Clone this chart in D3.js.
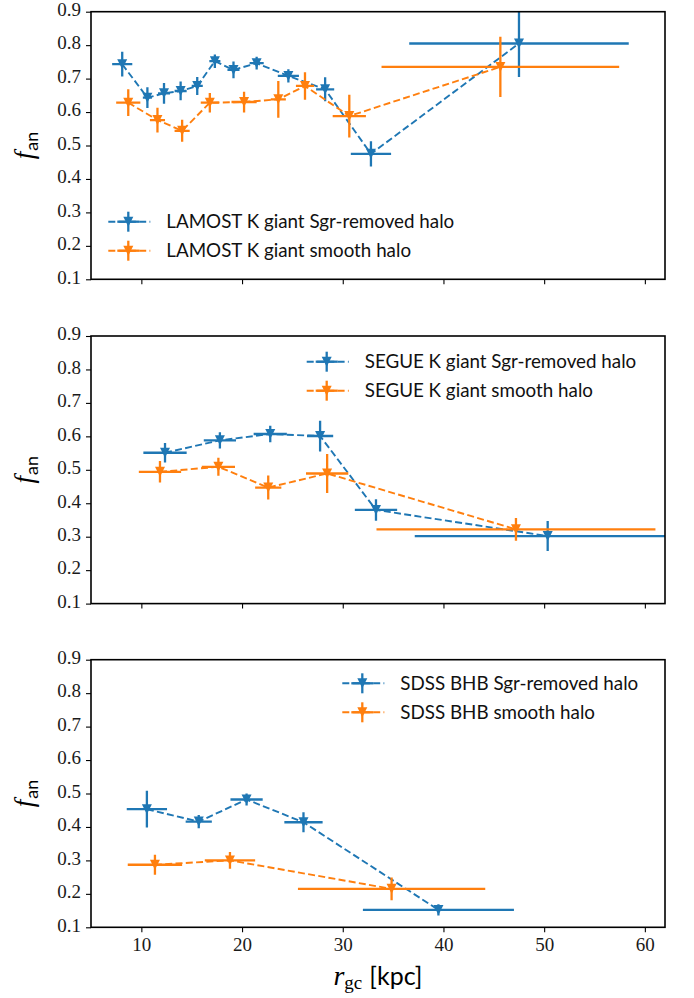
<!DOCTYPE html>
<html><head><meta charset="utf-8">
<script src="https://cdn.jsdelivr.net/npm/d3@7/dist/d3.min.js"></script>
<style>body{margin:0;background:#fff}</style>
</head><body>
<script>
// ---------- data ----------
const xTicks = [10, 20, 30, 40, 50, 60];
const yTicks = [0.1, 0.2, 0.3, 0.4, 0.5, 0.6, 0.7, 0.8, 0.9];

const lamostSgrX    = [8.1, 10.6, 12.25, 13.9, 15.55, 17.3, 19.15, 21.45, 24.6, 28.25, 32.8, 47.5];
const lamostSgrY    = [0.743, 0.643, 0.656, 0.663, 0.678, 0.752, 0.726, 0.746, 0.708, 0.668, 0.475, 0.805];
const lamostSgrXerr = [1.0, 0.45, 0.6, 0.6, 0.55, 0.55, 0.6, 0.7, 1.05, 0.9, 2.0, 10.9];
const lamostSgrYerr = [0.037, 0.031, 0.031, 0.028, 0.027, 0.02, 0.025, 0.019, 0.02, 0.036, 0.038, 0.1];

const lamostSmoothX    = [8.7, 11.6, 14.05, 16.8, 20.2, 23.6, 26.25, 30.65, 45.65];
const lamostSmoothY    = [0.628, 0.576, 0.544, 0.628, 0.63, 0.638, 0.678, 0.588, 0.735];
const lamostSmoothXerr = [1.2, 0.75, 0.75, 0.9, 1.25, 0.75, 0.9, 1.65, 11.8];
const lamostSmoothYerr = [0.04, 0.037, 0.033, 0.029, 0.031, 0.055, 0.041, 0.064, 0.09];

const segueSgrX    = [12.35, 17.8, 22.8, 27.75, 33.3, 50.35];
const segueSgrY    = [0.551, 0.588, 0.607, 0.601, 0.38, 0.302];
const segueSgrXerr = [2.15, 1.6, 1.65, 1.3, 2.1, 13.2];
const segueSgrYerr = [0.029, 0.024, 0.025, 0.046, 0.032, 0.045];

const segueSmoothX    = [11.85, 17.65, 22.6, 28.45, 47.2];
const segueSmoothY    = [0.494, 0.509, 0.447, 0.489, 0.322];
const segueSmoothXerr = [2.1, 1.65, 1.3, 2.1, 13.85];
const segueSmoothYerr = [0.032, 0.027, 0.036, 0.058, 0.034];

const sdssSgrX    = [10.55, 15.7, 20.45, 26.1, 39.5];
const sdssSgrY    = [0.453, 0.416, 0.482, 0.414, 0.152];
const sdssSgrXerr = [2.0, 1.3, 1.6, 1.9, 7.5];
const sdssSgrYerr = [0.055, 0.02, 0.018, 0.03, 0.017];

const sdssSmoothX    = [11.35, 18.8, 34.85];
const sdssSmoothY    = [0.287, 0.30, 0.215];
const sdssSmoothXerr = [2.7, 2.5, 9.3];
const sdssSmoothYerr = [0.03, 0.025, 0.034];

const legendLabels = [
  ["LAMOST K giant Sgr-removed halo", "LAMOST K giant smooth halo"],
  ["SEGUE K giant Sgr-removed halo", "SEGUE K giant smooth halo"],
  ["SDSS BHB Sgr-removed halo", "SDSS BHB smooth halo"]
];

// ---------- layout ----------
const W = 694, H = 998;
const BLUE = "#1f77b4", ORANGE = "#ff7f0e";
const left = 91, right = 665, ph = 267.6;
const tops = [11.7, 336, 659.7];
const legendPos = [ {x: 108.3, y: 221.7}, {x: 306.7, y: 361.7}, {x: 342.3, y: 683.3} ];
const SERIF = "'Liberation Serif', 'DejaVu Serif', serif";
const SANS = "Lato, 'Open Sans', 'DejaVu Sans', sans-serif";

const zip = (X, Y, XE, YE) => X.map((x, i) => ({x, y: Y[i], xe: XE[i], ye: YE[i]}));
const panels = [
  [zip(lamostSgrX, lamostSgrY, lamostSgrXerr, lamostSgrYerr), zip(lamostSmoothX, lamostSmoothY, lamostSmoothXerr, lamostSmoothYerr)],
  [zip(segueSgrX, segueSgrY, segueSgrXerr, segueSgrYerr), zip(segueSmoothX, segueSmoothY, segueSmoothXerr, segueSmoothYerr)],
  [zip(sdssSgrX, sdssSgrY, sdssSgrXerr, sdssSgrYerr), zip(sdssSmoothX, sdssSmoothY, sdssSmoothXerr, sdssSmoothYerr)]
];
const colors = [BLUE, ORANGE];

const svg = d3.select("body").append("svg").attr("width", W).attr("height", H)
  .style("font-family", SERIF);

const x = d3.scaleLinear().domain([5, 62]).range([left, right]);
const tri = d3.symbol().type({draw(ctx, size){ const r = Math.sqrt(size)/2; ctx.moveTo(0, r); ctx.lineTo(-r, -r); ctx.lineTo(r, -r); ctx.closePath(); }}).size(100);

panels.forEach((series, pi) => {
  const top = tops[pi], bottom = top + ph;
  const y = d3.scaleLinear().domain([0.1, 0.9]).range([bottom, top]);
  const g = svg.append("g");
  const clipId = "clip" + pi;
  g.append("clipPath").attr("id", clipId).append("rect")
    .attr("x", left).attr("y", top).attr("width", right - left).attr("height", ph);
  const plot = g.append("g").attr("clip-path", `url(#${clipId})`);

  series.forEach((data, si) => {
    const c = colors[si];
    const sg = plot.append("g");
    sg.append("path").datum(data)
      .attr("d", d3.line().x(d => x(d.x)).y(d => y(d.y)))
      .attr("fill", "none").attr("stroke", c).attr("stroke-width", 1.9)
      .attr("stroke-dasharray", "7,3.3");
    sg.selectAll(".xe").data(data).join("line")
      .attr("x1", d => x(d.x - d.xe)).attr("x2", d => x(d.x + d.xe))
      .attr("y1", d => y(d.y)).attr("y2", d => y(d.y))
      .attr("stroke", c).attr("stroke-width", 2.3);
    sg.selectAll(".ye").data(data).join("line")
      .attr("x1", d => x(d.x)).attr("x2", d => x(d.x))
      .attr("y1", d => y(d.y - d.ye)).attr("y2", d => y(d.y + d.ye))
      .attr("stroke", c).attr("stroke-width", 2.3);
    sg.selectAll(".m").data(data).join("path")
      .attr("transform", d => `translate(${x(d.x)},${y(d.y)})`)
      .attr("d", tri).attr("fill", c);
  });

  // axes
  const xa = g.append("g").attr("transform", `translate(0,${bottom})`)
    .call(d3.axisBottom(x).tickValues(xTicks).tickSize(5).tickPadding(4).tickFormat(d3.format("d")));
  const ya = g.append("g").attr("transform", `translate(${left},0)`)
    .call(d3.axisLeft(y).tickValues(yTicks).tickSize(5).tickPadding(5).tickFormat(d3.format(".1f")));
  [xa, ya].forEach(a => {
    a.select(".domain").remove();
    a.selectAll(".tick line").attr("stroke", "#000").attr("stroke-width", 1.1);
    a.selectAll(".tick text").attr("font-family", SERIF).attr("font-size", 19).attr("fill", "#1a1a1a");
  });
  if (pi !== 2) xa.selectAll(".tick text").remove();
  ya.selectAll(".tick text").attr("dy", "0.2em");
  xa.selectAll(".tick text").attr("dy", "0.78em");

  // frame
  g.append("rect").attr("x", left).attr("y", top).attr("width", right - left).attr("height", ph)
    .attr("fill", "none").attr("stroke", "#000").attr("stroke-width", 1.6);

  // y label
  const yl = g.append("text").attr("transform", `translate(33,${(top + bottom) / 2}) rotate(-90)`)
    .attr("text-anchor", "middle").attr("fill", "#000");
  yl.append("tspan").attr("font-family", SERIF).attr("font-style", "italic").attr("font-size", 27).text("f");
  yl.append("tspan").attr("font-family", SANS).attr("font-size", 18).attr("dy", 5).attr("dx", 1).text("an");

  // legend
  const lp = legendPos[pi];
  series.forEach((data, si) => {
    const c = colors[si];
    const ly = lp.y + si * 29;
    const lg = g.append("g");
    const mx = lp.x + 20;
    lg.append("line").attr("x1", lp.x).attr("x2", lp.x + 42).attr("y1", ly).attr("y2", ly)
      .attr("stroke", c).attr("stroke-width", 1.9).attr("stroke-dasharray", "7,3.3");
    lg.append("line").attr("x1", mx - 11).attr("x2", mx + 11).attr("y1", ly).attr("y2", ly)
      .attr("stroke", c).attr("stroke-width", 2.3);
    lg.append("line").attr("x1", mx).attr("x2", mx).attr("y1", ly - 10).attr("y2", ly + 10)
      .attr("stroke", c).attr("stroke-width", 2.3);
    lg.append("path").attr("transform", `translate(${mx},${ly})`).attr("d", tri).attr("fill", c);
    lg.append("text").attr("x", lp.x + 58).attr("y", ly).attr("dy", "0.35em")
      .attr("font-family", SANS).attr("font-size", 18.8).attr("fill", "#111")
      .text(legendLabels[pi][si]);
  });
});

// x label
const xl = svg.append("text").attr("x", (left + right) / 2).attr("y", 985)
  .attr("text-anchor", "middle").attr("fill", "#000");
xl.append("tspan").attr("font-family", SERIF).attr("font-style", "italic").attr("font-size", 28).text("r");
xl.append("tspan").attr("font-family", SERIF).attr("font-size", 19).attr("dy", 4).text("gc");
xl.append("tspan").attr("font-family", SANS).attr("font-size", 25).attr("dy", -4).attr("dx", 7).text("[kpc]");
</script>
</body></html>
